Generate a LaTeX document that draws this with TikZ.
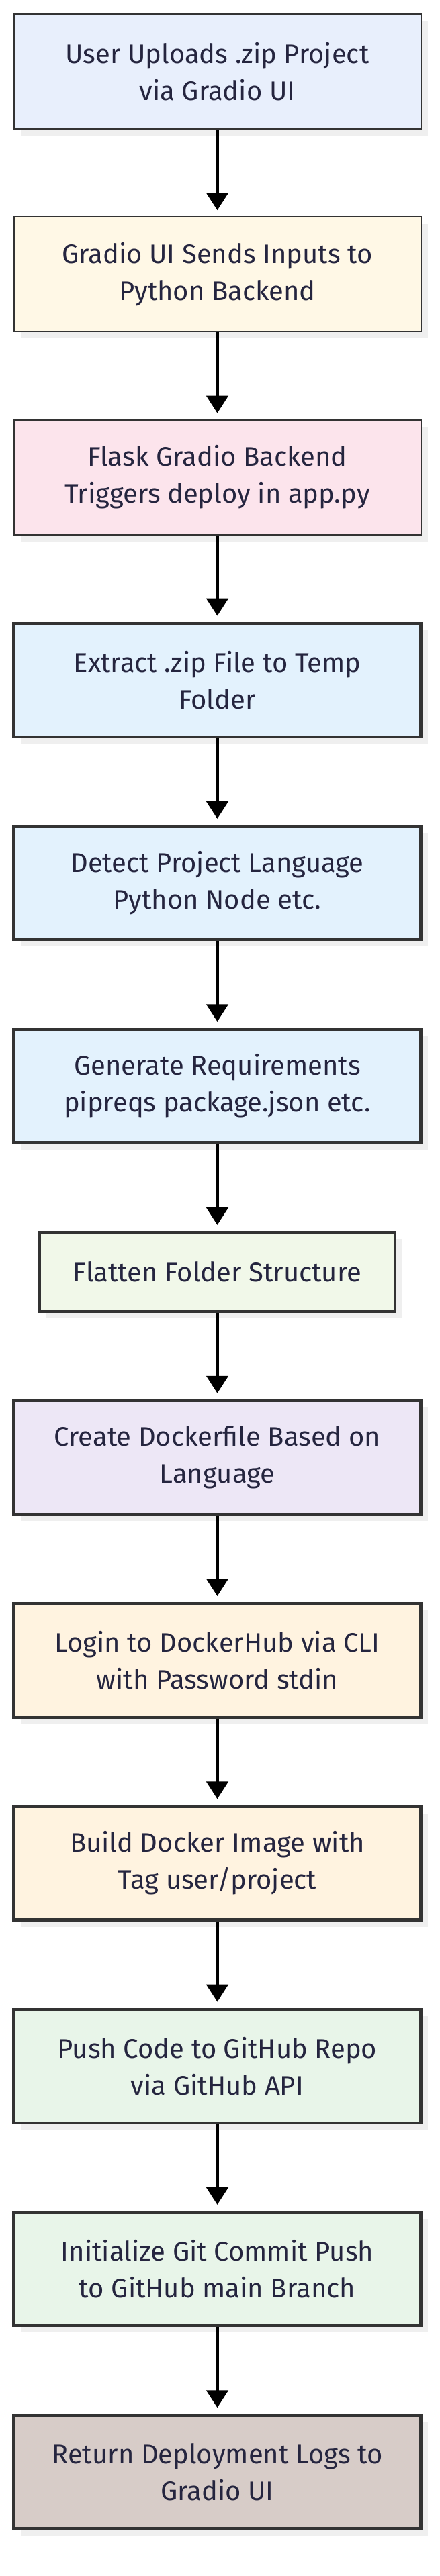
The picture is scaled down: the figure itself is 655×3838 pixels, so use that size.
\documentclass[tikz,border=0pt]{standalone}
\usepackage{fontspec}
\setmainfont{Fira Sans}
\usetikzlibrary{arrows.meta, shadows}
\definecolor{uiblue}{HTML}{E8EFFC}
\definecolor{uiyellow}{HTML}{FFF8E6}
\definecolor{uipink}{HTML}{FCE4EC}
\definecolor{stepblue}{HTML}{E3F2FD}
\definecolor{steplime}{HTML}{F1F8E9}
\definecolor{steppurple}{HTML}{EDE7F6}
\definecolor{steporange}{HTML}{FFF3E0}
\definecolor{stepgreen}{HTML}{E8F5E9}
\definecolor{stepbrown}{HTML}{D7CCC8}
\definecolor{boxline}{HTML}{333333}
\definecolor{boxtext}{HTML}{25253F}
\definecolor{shadowgray}{HTML}{EFEFEF}
\tikzset{>={Triangle[width=32pt,length=26pt]}}
\tikzset{
    flowbox/.style={draw=boxline, line width=4.5pt, text=boxtext,
        minimum width=606pt, minimum height=169pt, align=center,
        font=\fontsize{40}{55}\selectfont,
        drop shadow={shadow xshift=10pt, shadow yshift=-10pt, fill=shadowgray, opacity=1}},
    thinbox/.style={flowbox, line width=2pt, minimum height=171pt},
    flowarrow/.style={->, line width=5pt, shorten >=9pt}
}
\begin{document}
\begin{tikzpicture}[x=1pt, y=1pt]
    \useasboundingbox (0,0) rectangle (655,-3838);
    \node [thinbox, fill=uiblue] (upload) at (323.5,-106.5) {User Uploads .zip Project\\via Gradio UI};
    \node [thinbox, fill=uiyellow] (sendinputs) at (323.5,-408.8) {Gradio UI Sends Inputs to\\Python Backend};
    \node [thinbox, fill=uipink] (trigger) at (323.5,-711.1) {Flask Gradio Backend\\Triggers deploy in app.py};
    \node [flowbox, fill=stepblue] (extract) at (323.5,-1013.4) {Extract .zip File to Temp\\Folder};
    \node [flowbox, fill=stepblue] (detect) at (323.5,-1315.7) {Detect Project Language\\Python Node etc.};
    \node [flowbox, fill=stepblue] (genreq) at (323.5,-1618.0) {Generate Requirements\\pipreqs package.json etc.};
    \node [flowbox, fill=steplime, minimum width=529pt, minimum height=117.5pt] (flatten) at (323.5,-1895) {Flatten Folder Structure};
    \node [flowbox, fill=steppurple] (dockerfile) at (323.5,-2171.5) {Create Dockerfile Based on\\Language};
    \node [flowbox, fill=steporange] (login) at (323.5,-2473.8) {Login to DockerHub via CLI\\with Password stdin};
    \node [flowbox, fill=steporange] (build) at (323.5,-2776.1) {Build Docker Image with\\Tag user/project};
    \node [flowbox, fill=stepgreen] (pushcode) at (323.5,-3078.4) {Push Code to GitHub Repo\\via GitHub API};
    \node [flowbox, fill=stepgreen] (gitpush) at (323.5,-3380.7) {Initialize Git Commit Push\\to GitHub main Branch};
    \node [flowbox, fill=stepbrown] (logs) at (323.5,-3683.0) {Return Deployment Logs to\\Gradio UI};
    % connectors
    \draw[flowarrow] (upload) -- (sendinputs);
    \draw[flowarrow] (sendinputs) -- (trigger);
    \draw[flowarrow] (trigger) -- (extract);
    \draw[flowarrow] (extract) -- (detect);
    \draw[flowarrow] (detect) -- (genreq);
    \draw[flowarrow] (genreq) -- (flatten);
    \draw[flowarrow] (flatten) -- (dockerfile);
    \draw[flowarrow] (dockerfile) -- (login);
    \draw[flowarrow] (login) -- (build);
    \draw[flowarrow] (build) -- (pushcode);
    \draw[flowarrow] (pushcode) -- (gitpush);
    \draw[flowarrow] (gitpush) -- (logs);
\end{tikzpicture}
\end{document}
